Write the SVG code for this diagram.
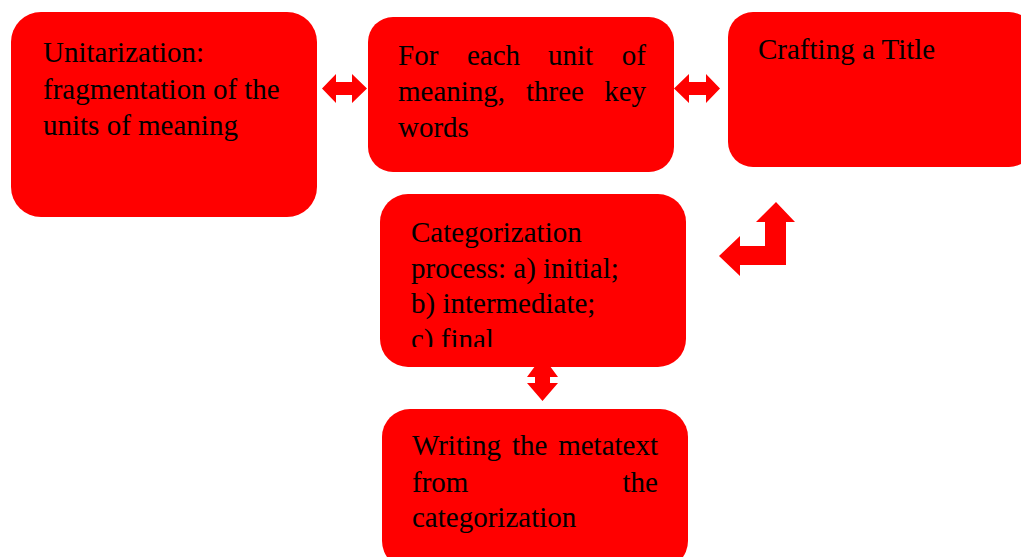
<svg xmlns="http://www.w3.org/2000/svg" width="1021" height="557" viewBox="0 0 1021 557">
<style>
.box{fill:#FF0000;}
.arr{fill:#FF0000;}
.t{font-family:"Liberation Serif","Times New Roman",serif;font-size:29px;fill:#000;}
</style>
<defs>
<clipPath id="clip4"><rect x="380" y="194" width="306" height="153"/></clipPath>
</defs>
<rect x="0" y="0" width="1021" height="557" fill="#FFFFFF"/>
<g id="connectors">
<polygon class="arr" points="322,88.5 336,74 336,82 352,82 352,74 367,88.5 352,103 352,95 336,95 336,103"/>
<polygon class="arr" points="674,88.5 689,74 689,82 706,82 706,74 720,88.5 706,103 706,95 689,95 689,103"/>
<polygon class="arr" points="776,202 795,222 786,222 786,265 740,265 740,276 719,256 740,236 740,246 765,246 765,222 756,222"/>
<polygon class="arr" points="542.5,356 558,377 550,377 550,383 558,383 542.5,401 527,383 535,383 535,377 527,377"/>
</g>
<g id="node1">
<rect class="box" x="11" y="12" width="306" height="205" rx="30" ry="30"/>
<text class="t" x="43" y="62">Unitarization:</text>
<text class="t" x="43" y="99">fragmentation of the</text>
<text class="t" x="43" y="135">units of meaning</text>
</g>
<g id="node2">
<rect class="box" x="368" y="17" width="306" height="155" rx="25" ry="25"/>
<text class="t" y="65"><tspan x="398">For</tspan><tspan x="467">each</tspan><tspan x="548">unit</tspan><tspan x="646" text-anchor="end">of</tspan></text>
<text class="t" y="101"><tspan x="398">meaning,</tspan><tspan x="526">three</tspan><tspan x="646" text-anchor="end">key</tspan></text>
<text class="t" x="398" y="137">words</text>
</g>
<g id="node3">
<rect class="box" x="728" y="12" width="306" height="155" rx="25" ry="25"/>
<text class="t" x="758" y="59">Crafting a Title</text>
</g>
<g id="node4">
<rect class="box" x="380" y="194" width="306" height="173" rx="28" ry="28"/>
<g clip-path="url(#clip4)">
<text class="t" x="411" y="242">Categorization</text>
<text class="t" x="411" y="278">process: a) initial;</text>
<text class="t" x="411" y="313">b) intermediate;</text>
<text class="t" x="411" y="349">c) final</text>
</g>
</g>
<g id="node5">
<rect class="box" x="382" y="409" width="306" height="160" rx="28" ry="28"/>
<text class="t" y="455"><tspan x="412">Writing</tspan><tspan x="512">the</tspan><tspan x="658" text-anchor="end">metatext</tspan></text>
<text class="t" y="492"><tspan x="412">from</tspan><tspan x="658" text-anchor="end">the</tspan></text>
<text class="t" x="412" y="527">categorization</text>
</g>
</svg>
